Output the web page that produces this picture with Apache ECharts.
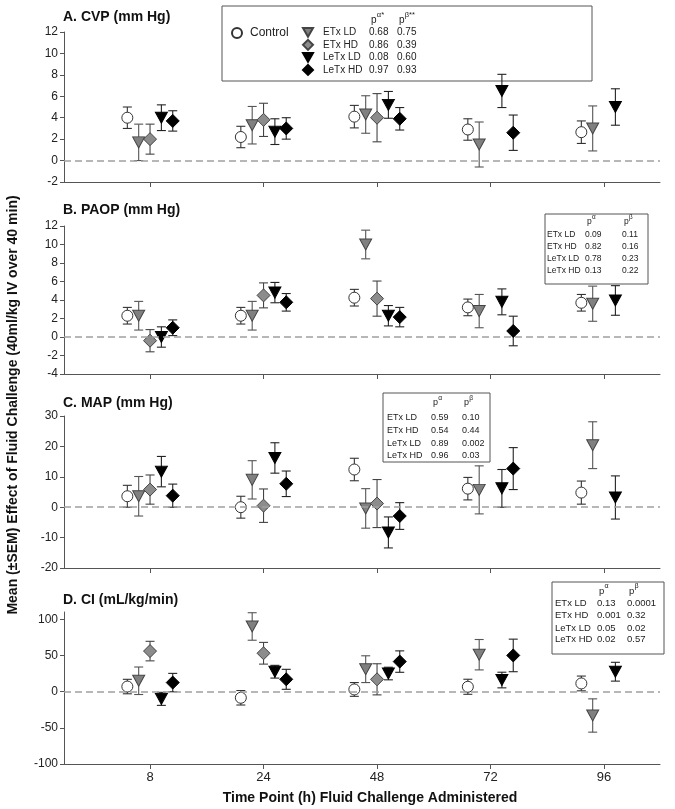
<!DOCTYPE html>
<html><head><meta charset="utf-8">
<script src="https://cdn.jsdelivr.net/npm/echarts@6/dist/echarts.min.js"></script>
<style>html,body{margin:0;padding:0;background:#fff}#c{width:675px;height:809px}</style>
</head><body><div id="c"></div>
<script>
// ---------- data ----------
const timeLabels = ['8', '24', '48', '72', '96'];
const groupNames = ['Control', 'ETx LD', 'ETx HD', 'LeTx LD', 'LeTx HD'];
const tableNames = ['ETx LD', 'ETx HD', 'LeTx LD', 'LeTx HD'];

// rows = group (Control, ETx LD, ETx HD, LeTx LD, LeTx HD), cols = time point
const cvpMean = [
  [4.0, 2.2, 4.1, 2.9, 2.65],
  [1.7, 3.3, 4.3, 1.5, 3.0],
  [2.0, 3.8, 4.0, null, null],
  [4.0, 2.7, 5.2, 6.5, 5.0],
  [3.7, 3.0, 3.9, 2.6, null]
];
const cvpSem = [
  [1.0, 1.0, 1.05, 1.0, 1.05],
  [1.7, 1.75, 1.75, 2.1, 2.1],
  [1.4, 1.55, 2.25, null, null],
  [1.2, 1.2, 1.25, 1.55, 1.7],
  [0.95, 1.0, 1.05, 1.65, null]
];
const paopMean = [
  [2.3, 2.3, 4.25, 3.2, 3.7],
  [2.3, 2.3, 10.0, 2.8, 3.6],
  [-0.4, 4.5, 4.15, null, null],
  [0.0, 4.8, 2.3, 3.8, 3.95],
  [1.0, 3.75, 2.15, 0.65, null]
];
const paopSem = [
  [0.9, 0.9, 0.9, 0.9, 0.9],
  [1.55, 1.55, 1.55, 1.8, 1.9],
  [1.2, 1.35, 1.9, null, null],
  [1.1, 1.1, 1.1, 1.4, 1.6],
  [0.85, 0.95, 1.05, 1.6, null]
];
const mapMean = [
  [3.6, 0.0, 12.4, 6.1, 4.8],
  [3.6, 9.0, -0.4, 5.7, 20.4],
  [5.8, 0.5, 1.2, null, null],
  [11.7, 16.2, -8.3, 6.2, 3.2],
  [3.8, 7.7, -2.9, 12.7, null]
];
const mapSem = [
  [3.6, 3.6, 3.7, 3.7, 3.8],
  [6.5, 6.3, 6.5, 7.9, 7.7],
  [4.8, 5.5, 7.9, null, null],
  [5.0, 5.0, 5.1, 6.2, 7.1],
  [3.8, 4.2, 4.4, 6.9, null]
];
const ciMean = [
  [7, -8.5, 3, 6.7, 11.3],
  [15, 90, 31, 51, -33],
  [56, 53, 17, null, null],
  [-10, 27.5, 25, 16, 27.5],
  [12.5, 17, 41.5, 50, null]
];
const ciSem = [
  [10, 10, 9.5, 10.4, 10.2],
  [19, 19, 18.5, 21, 23],
  [13.5, 15, 21.5, null, null],
  [9, 8.8, 8.7, 10.8, 13],
  [12.7, 13.8, 14.8, 22.5, null]
];
const cvpP = [['0.68', '0.75'], ['0.86', '0.39'], ['0.08', '0.60'], ['0.97', '0.93']];
const paopP = [['0.09', '0.11'], ['0.82', '0.16'], ['0.78', '0.23'], ['0.13', '0.22']];
const mapP = [['0.59', '0.10'], ['0.54', '0.44'], ['0.89', '0.002'], ['0.96', '0.03']];
const ciP = [['0.13', '0.0001'], ['0.001', '0.32'], ['0.05', '0.02'], ['0.02', '0.57']];

// ---------- layout / style ----------
const FONT = '"Liberation Sans", Arial, sans-serif';
const groupOffsets = [-0.2, -0.1, 0, 0.1, 0.2];
const panels = [
  { title: 'A. CVP (mm Hg)', mean: cvpMean, sem: cvpSem, min: -2, max: 12, interval: 2, top: 32, height: 150, titleY: 18 },
  { title: 'B. PAOP (mm Hg)', mean: paopMean, sem: paopSem, min: -4, max: 12, interval: 2, top: 226, height: 148, titleY: 211 },
  { title: 'C. MAP (mm Hg)', mean: mapMean, sem: mapSem, min: -20, max: 30, interval: 10, top: 416, height: 152, titleY: 404 },
  { title: 'D. CI (mL/kg/min)', mean: ciMean, sem: ciSem, min: -100, max: 110, interval: 50, top: 612, height: 152, titleY: 601 }
];
const DOWN_TRI = 'path://M0,0 L12,0 L6,10.4 Z';
const styles = [
  { symbol: 'circle', size: 11, fill: '#ffffff', border: '#333', bar: '#333' },
  { symbol: DOWN_TRI, size: [12, 11], fill: '#808080', border: '#444', bar: '#555' },
  { symbol: 'diamond', size: 13, fill: '#8c8c8c', border: '#444', bar: '#444' },
  { symbol: DOWN_TRI, size: [12, 11], fill: '#000000', border: '#000', bar: '#222' },
  { symbol: 'diamond', size: 13, fill: '#000000', border: '#000', bar: '#222' }
];
const GL = 64, GW = 596, XMIN = -0.758, XMAX = 4.493;

const grids = [], xAxes = [], yAxes = [], series = [], titles = [];
panels.forEach((p, pi) => {
  grids.push({ left: GL, top: p.top, width: GW, height: p.height });
  titles.push({ text: p.title, left: 63, top: p.titleY - 8, padding: 0,
    textStyle: { fontFamily: FONT, fontSize: 14, fontWeight: 'bold', color: '#111' } });
  const ticks = [];
  for (let v = p.min; v <= p.max + 1e-9; v += p.interval) ticks.push(Math.round(v * 1000) / 1000);
  xAxes.push({
    type: 'value', gridIndex: pi, min: XMIN, max: XMAX, position: 'bottom',
    axisLine: { show: true, onZero: false, lineStyle: { color: '#555', width: 1 } },
    axisTick: { show: true, length: 5, customValues: [0, 1, 2, 3, 4], lineStyle: { color: '#555' } },
    axisLabel: { show: pi === 3, customValues: [0, 1, 2, 3, 4], margin: 7,
      formatter: v => timeLabels[Math.round(v)], fontFamily: FONT, fontSize: 13, color: '#222' },
    splitLine: { show: false }
  });
  yAxes.push({
    type: 'value', gridIndex: pi, min: p.min, max: p.max, interval: p.interval, position: 'left',
    axisLine: { show: true, onZero: false, lineStyle: { color: '#555', width: 1 } },
    axisTick: { show: true, length: 4, customValues: ticks, lineStyle: { color: '#555' } },
    axisLabel: { customValues: ticks, margin: 6, fontFamily: FONT, fontSize: 12, color: '#222' },
    splitLine: { show: false }
  });
  groupNames.forEach((g, gi) => {
    const st = styles[gi];
    const pts = [], bars = [];
    p.mean[gi].forEach((m, ti) => {
      if (m === null) return;
      const x = ti + groupOffsets[gi];
      pts.push([x, m]);
      bars.push([x, m - p.sem[gi][ti], m + p.sem[gi][ti]]);
    });
    const err = {
      type: 'custom', xAxisIndex: pi, yAxisIndex: pi, data: bars, silent: true, z: 1,
      encode: { x: 0, y: [1, 2] },
      renderItem: (params, api) => {
        const x = api.value(0);
        const lo = api.coord([x, api.value(1)]);
        const hi = api.coord([x, api.value(2)]);
        const s = { stroke: st.bar, lineWidth: 1.1 };
        return { type: 'group', children: [
          { type: 'line', shape: { x1: lo[0], y1: lo[1], x2: hi[0], y2: hi[1] }, style: s },
          { type: 'line', shape: { x1: hi[0] - 4.5, y1: hi[1], x2: hi[0] + 4.5, y2: hi[1] }, style: s },
          { type: 'line', shape: { x1: lo[0] - 4.5, y1: lo[1], x2: lo[0] + 4.5, y2: lo[1] }, style: s }
        ] };
      }
    };
    if (gi === 0) {
      err.markLine = { silent: true, symbol: ['none', 'none'], label: { show: false },
        lineStyle: { color: '#a0a0a0', type: [7, 4], width: 1.6 }, data: [{ yAxis: 0 }] };
    }
    series.push(err);
    series.push({
      type: 'scatter', name: g, xAxisIndex: pi, yAxisIndex: pi, data: pts, z: 3,
      symbol: st.symbol, symbolSize: st.size,
      itemStyle: { color: st.fill, borderColor: st.border, borderWidth: 1, opacity: 1 },
      emphasis: { disabled: true }
    });
  });
});

// ---------- tables (p-values) ----------
const graphics = [];
function txt(x, y, text, size, extra) {
  graphics.push(Object.assign({ type: 'text', x: x, y: y, silent: true,
    style: { text: text, fontFamily: FONT, fontSize: size, fill: '#222', verticalAlign: 'middle', align: 'left' } }, extra || {}));
}
function table(box, nameX, c1, c2, headY, rowsY, size, pv, sup1, sup2) {
  graphics.push({ type: 'rect', silent: true, shape: { x: box[0], y: box[1], width: box[2], height: box[3] },
    style: { fill: 'none', stroke: '#555', lineWidth: 1 } });
  txt(c1 + 2, headY, 'p', size);
  txt(c1 + 2 + size * 0.58, headY - size * 0.55, sup1, size * 0.75);
  txt(c2 + 2, headY, 'p', size);
  txt(c2 + 2 + size * 0.58, headY - size * 0.55, sup2, size * 0.75);
  rowsY.forEach((y, i) => {
    if (nameX !== null) txt(nameX, y, tableNames[i], size);
    txt(c1, y, pv[i][0], size);
    txt(c2, y, pv[i][1], size);
  });
}
table([222, 6, 370, 75], null, 369, 397, 20, [32.3, 44.9, 57.5, 70.1], 10, cvpP, 'α*', 'β**');
table([545, 214, 103, 70], 547, 585, 622, 222, [234.5, 246.7, 259, 271], 8.5, paopP, 'α', 'β');
table([383, 393, 107, 69], 387, 431, 462, 403, [417.3, 430.5, 443.3, 456], 9, mapP, 'α', 'β');
table([552, 582, 112, 72], 555, 597, 627, 591.5, [603.7, 615.5, 628, 639.7], 9.5, ciP, 'α', 'β');

// axis titles
graphics.push({ type: 'text', x: 13, y: 405, rotation: Math.PI / 2, silent: true,
  style: { text: 'Mean (±SEM) Effect of Fluid Challenge (40ml/kg IV over 40 min)', fontFamily: FONT,
    fontSize: 14, fontWeight: 'bold', fill: '#111', align: 'center', verticalAlign: 'middle' } });
graphics.push({ type: 'text', x: 370, y: 798, silent: true,
  style: { text: 'Time Point (h) Fluid Challenge Administered', fontFamily: FONT,
    fontSize: 14, fontWeight: 'bold', fill: '#111', align: 'center', verticalAlign: 'middle' } });

const option = {
  animation: false,
  backgroundColor: '#fff',
  title: titles,
  legend: [
    { data: ['Control'], left: 231, top: 27, padding: 0, itemWidth: 10, itemHeight: 10, selectedMode: false,
      textStyle: { fontFamily: FONT, fontSize: 12, color: '#222', padding: [0, 0, 0, 3] } },
    { data: ['ETx LD', 'ETx HD', 'LeTx LD', 'LeTx HD'], orient: 'vertical', left: 302, top: 27, padding: 0,
      itemWidth: 10, itemHeight: 10, itemGap: 1.2, selectedMode: false,
      textStyle: { fontFamily: FONT, fontSize: 10, color: '#222', lineHeight: 10, padding: [0, 0, 0, 5] } }
  ],
  grid: grids,
  xAxis: xAxes,
  yAxis: yAxes,
  series: series,
  graphic: graphics
};
const chart = echarts.init(document.getElementById('c'), null, { renderer: 'canvas' });
chart.setOption(option);
</script></body></html>
